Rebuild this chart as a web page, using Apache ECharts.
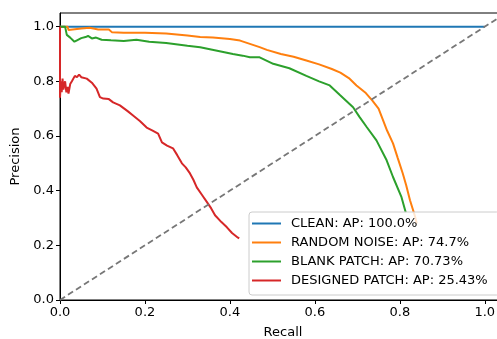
<!DOCTYPE html>
<html>
<head>
<meta charset="utf-8">
<script src="https://cdn.jsdelivr.net/npm/echarts@6/dist/echarts.min.js"></script>
<style>
  html, body { margin: 0; padding: 0; background: #fff; }
  #chart { width: 497px; height: 339px; }
</style>
</head>
<body>
<div id="chart"></div>
<script>
var tickValues = [0, 0.2, 0.4, 0.6, 0.8, 1.0];

var cleanRecall = [0, 1.0];
var cleanPrecision = [1.0, 1.0];

var noiseRecall = [0, 0.018, 0.02, 0.05, 0.07, 0.09, 0.115, 0.122, 0.15, 0.2, 0.25, 0.3, 0.33, 0.36, 0.4, 0.424, 0.447,
    0.47, 0.487, 0.52, 0.55, 0.58, 0.61, 0.64, 0.66, 0.68, 0.698, 0.72, 0.735, 0.75, 0.76, 0.77, 0.784, 0.795,
    0.807, 0.815, 0.824, 0.835, 0.84];
var noisePrecision = [1.0, 1.0, 0.988, 0.993, 0.996, 0.99, 0.99, 0.98, 0.978, 0.978, 0.975, 0.968, 0.962, 0.96, 0.955, 0.949, 0.937,
    0.925, 0.915, 0.9, 0.89, 0.876, 0.862, 0.845, 0.832, 0.812, 0.785, 0.757, 0.73, 0.7, 0.66, 0.62, 0.573, 0.52,
    0.463, 0.42, 0.365, 0.31, 0.28];

var blankRecall = [0, 0.012, 0.016, 0.02, 0.024, 0.028, 0.034, 0.04, 0.05, 0.06, 0.066, 0.075, 0.085, 0.098, 0.12, 0.15,
    0.18, 0.21, 0.25, 0.3, 0.33, 0.37, 0.407, 0.43, 0.447, 0.47, 0.502, 0.54, 0.58, 0.61, 0.635, 0.659, 0.69,
    0.705, 0.722, 0.745, 0.769, 0.784, 0.804, 0.814];
var blankPrecision = [1.0, 1.0, 0.97, 0.975, 0.96, 0.965, 0.945, 0.95, 0.958, 0.962, 0.966, 0.957, 0.96, 0.952, 0.95, 0.948,
    0.952, 0.945, 0.94, 0.93, 0.925, 0.912, 0.9, 0.894, 0.888, 0.888, 0.864, 0.848, 0.82, 0.8, 0.785, 0.75, 0.705,
    0.67, 0.633, 0.584, 0.511, 0.45, 0.376, 0.32];

var designedRecall = [0, 0, 0.002, 0.004, 0.006, 0.008, 0.01, 0.012, 0.015, 0.018, 0.02, 0.024, 0.028, 0.035, 0.04, 0.045,
    0.05, 0.063, 0.075, 0.086, 0.094, 0.102, 0.115, 0.125, 0.141, 0.16, 0.172, 0.188, 0.204, 0.218, 0.231, 0.24,
    0.252, 0.266, 0.276, 0.287, 0.296, 0.306, 0.314, 0.322, 0.334, 0.346, 0.356, 0.365, 0.38, 0.393, 0.405, 0.419, 0.422];
var designedPrecision = [1.0, 0.74, 0.8, 0.76, 0.81, 0.77, 0.79, 0.8, 0.76, 0.78, 0.755, 0.79, 0.8, 0.82, 0.815, 0.825,
    0.815, 0.81, 0.795, 0.773, 0.742, 0.737, 0.735, 0.723, 0.712, 0.69, 0.675, 0.655, 0.631, 0.62, 0.609, 0.577,
    0.565, 0.555, 0.53, 0.5, 0.485, 0.463, 0.44, 0.412, 0.385, 0.358, 0.335, 0.31, 0.285, 0.266, 0.245, 0.228, 0.226];

var diagRecall = [0, 1.05];
var diagPrecision = [0, 1.05];

var names = ['CLEAN: AP: 100.0%', 'RANDOM NOISE: AP: 74.7%', 'BLANK PATCH: AP: 70.73%', 'DESIGNED PATCH: AP: 25.43%'];
var colors = ['#1f77b4', '#ff7f0e', '#2ca02c', '#d62728'];

function pairs(xs, ys) {
    return xs.map(function (x, i) { return [x, ys[i]]; });
}

var curves = [
    pairs(cleanRecall, cleanPrecision),
    pairs(noiseRecall, noisePrecision),
    pairs(blankRecall, blankPrecision),
    pairs(designedRecall, designedPrecision)
];

var font = 'DejaVu Sans';
var series = curves.map(function (d, i) {
    return {
        name: names[i],
        type: 'line',
        data: d,
        showSymbol: false,
        symbol: 'none',
        animation: false,
        lineStyle: { color: colors[i], width: 2 },
        itemStyle: { color: colors[i] },
        z: 3
    };
});
series.push({
    name: 'diag',
    type: 'line',
    data: pairs(diagRecall, diagPrecision),
    symbol: 'none',
    animation: false,
    lineStyle: { color: '#777777', width: 1.8, type: [6, 3.5] },
    z: 3
});

function valueAxis(label, gap) {
    return {
        type: 'value',
        min: 0,
        max: 1.05,
        interval: 0.2,
        name: label,
        nameLocation: 'middle',
        nameGap: gap,
        nameTextStyle: { fontFamily: font, fontSize: 13, color: '#000' },
        axisLine: { show: true, lineStyle: { color: '#000', width: 1 } },
        axisTick: { show: true, inside: false, length: 4, customValues: tickValues, lineStyle: { color: '#000' } },
        axisLabel: {
            customValues: tickValues,
            fontFamily: font, fontSize: 13, color: '#000', margin: 6,
            formatter: function (v) { return v.toFixed(1); }
        },
        splitLine: { show: false }
    };
}

var chart = echarts.init(document.getElementById('chart'), null, { renderer: 'canvas' });
chart.setOption({
    backgroundColor: '#fff',
    animation: false,
    grid: {
        left: 60, top: 13, width: 446, bottom: 39,
        outerBoundsMode: 'none', containLabel: false,
        show: true, borderColor: '#000', borderWidth: 1
    },
    xAxis: valueAxis('Recall', 26),
    yAxis: valueAxis('Precision', 36),
    legend: {
        data: names,
        orient: 'vertical',
        left: 249,
        top: 212,
        z: 10,
        icon: 'rect',
        itemWidth: 29,
        itemHeight: 2,
        itemGap: 6,
        padding: [5, 12, 8, 3],
        backgroundColor: 'rgba(255,255,255,0.8)',
        borderColor: '#cccccc',
        borderWidth: 1,
        borderRadius: 3,
        selectedMode: false,
        textStyle: { fontFamily: font, fontSize: 13, color: '#000', padding: [0, 0, 0, 5] }
    },
    series: series
});
</script>
</body>
</html>
